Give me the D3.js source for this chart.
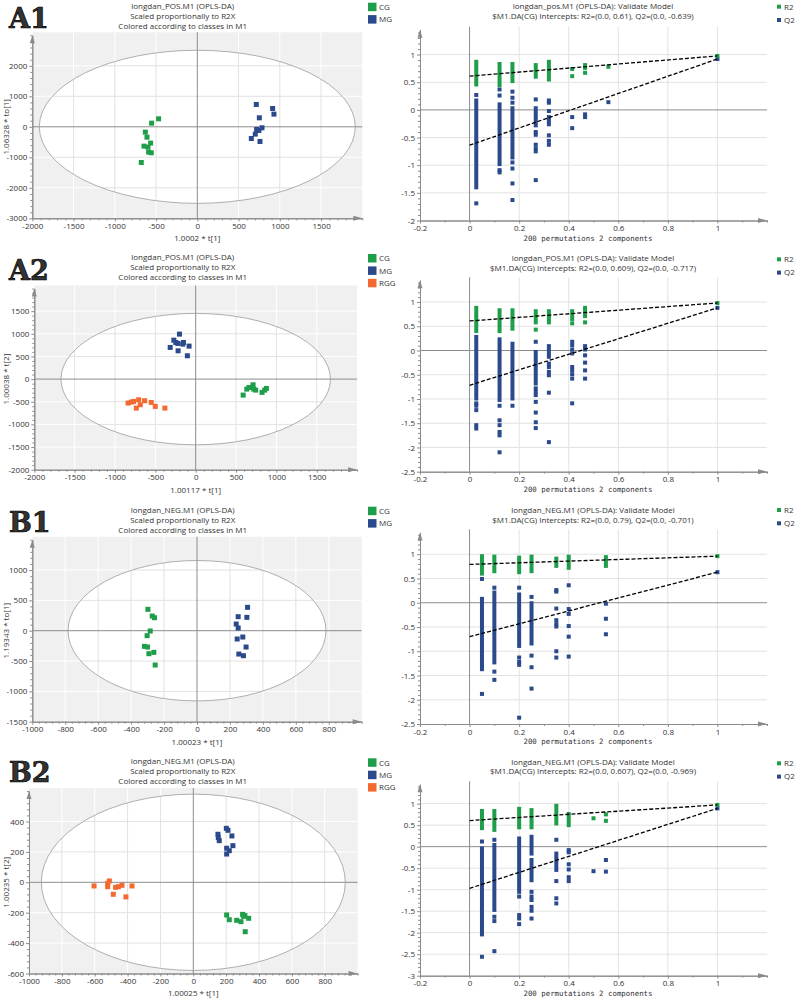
<!DOCTYPE html>
<html>
<head>
<meta charset="utf-8">
<script src="https://cdn.jsdelivr.net/npm/d3@7"></script>
<style>
body { margin: 0; background: #fff; }
text { font-family: "Open Sans", sans-serif; fill: #333; }
</style>
</head>
<body>
<div id="chart"></div>
<script>
var w = 796,
    h = 1000;

// score plot points [t1, t2/to1]
var a1Cg = [[-469, 262], [-554, 120], [-630, -175], [-610, -339], [-566, -535], [-646, -634], [-598, -667], [-590, -830], [-558, -852], [-679, -1169]];
var a1Mg = [[715, 732], [913, 601], [929, 415], [752, 295], [784, -33], [719, -87], [747, -120], [703, -240], [655, -383], [760, -481]];

var a2Cg = [[588, -353], [633, -221], [661, -184], [711, -125], [719, -221], [743, -243], [822, -294], [855, -243], [876, -206], [695, -184]];
var a2Mg = [[-201, 993], [-271, 860], [-247, 809], [-222, 787], [-152, 809], [-160, 772], [-316, 699], [-82, 728], [-218, 625], [-103, 515]];
var a2Rgg = [[-838, -529], [-797, -507], [-769, -493], [-707, -456], [-687, -566], [-736, -640], [-633, -478], [-551, -515], [-501, -603], [-382, -640]];

var b1Cg = [[-298, 352], [-272, 242], [-258, 214], [-284, -5], [-303, -82], [-319, -258], [-300, -269], [-262, -357], [-292, -379], [-254, -566]];
var b1Mg = [[307, 385], [250, 231], [303, 220], [238, 110], [250, 44], [244, -137], [278, -104], [298, -269], [254, -385], [282, -412]];

var b2Cg = [[203, -215], [219, -246], [264, -250], [300, -211], [314, -219], [337, -237], [290, -259], [316, -325], [306, -224]];
var b2Mg = [[201, 355], [211, 342], [150, 316], [235, 305], [152, 294], [158, 274], [241, 241], [203, 224], [219, 208], [203, 186]];
var b2Rgg = [[-604, -24], [-511, 9], [-521, -7], [-521, -29], [-473, -33], [-456, -29], [-434, -20], [-487, -79], [-410, -96], [-373, -24]];

// Hotelling T2 ellipse semi axes
var a1Ellipse = [1915, 2510];
var a2Ellipse = [1670, 1450];
var b1Ellipse = [783, 1157];
var b2Ellipse = [925, 580];

var a1XTicks = [-2000, -1500, -1000, -500, 0, 500, 1000, 1500];
var a1YTicks = [-3000, -2000, -1000, 0, 1000, 2000];
var a2XTicks = [-2000, -1500, -1000, -500, 0, 500, 1000, 1500];
var a2YTicks = [-2000, -1500, -1000, -500, 0, 500, 1000, 1500];
var b1XTicks = [-1000, -800, -600, -400, -200, 0, 200, 400, 600, 800];
var b1YTicks = [-1500, -1000, -500, 0, 500, 1000];
var b2XTicks = [-1000, -800, -600, -400, -200, 0, 200, 400, 600, 800];
var b2YTicks = [-600, -400, -200, 0, 200, 400];

// permutation tests: bars are [x, low, high] runs of overlapping squares, points are [x, y]
var a1R2Bars = [[0.027, 0.46, 0.87], [0.121, 0.45, 0.83], [0.173, 0.52, 0.83], [0.267, 0.60, 0.81], [0.32, 0.55, 0.87], [0.466, 0.76, 0.81]];
var a1R2Points = [[0.414, 0.74], [0.414, 0.61], [0.466, 0.67], [0.56, 0.78]];
var a1Q2Bars = [[0.027, -1.40, 0.17], [0.121, -0.98, 0.10], [0.173, -0.86, 0.03], [0.267, -0.28, 0.03]];
var a1Q2Points = [[0.027, 0.27], [0.027, -1.69], [0.121, 0.37], [0.121, 0.26], [0.121, -1.09], [0.121, -1.13],
    [0.173, 0.33], [0.173, 0.22], [0.173, 0.13], [0.173, -0.95], [0.173, -1.06], [0.173, -1.33], [0.173, -1.63],
    [0.267, 0.19], [0.267, -0.40], [0.267, -0.45], [0.267, -0.63], [0.267, -0.70], [0.267, -0.75], [0.267, -1.27],
    [0.32, 0.17], [0.32, 0.13], [0.32, -0.02], [0.32, -0.13], [0.32, -0.20], [0.32, -0.26], [0.32, -0.46], [0.32, -0.56], [0.32, -0.63],
    [0.414, -0.13], [0.414, -0.33], [0.466, -0.08], [0.466, -0.13], [0.56, 0.14]];
var a1Original = [0.976, 0.92];
var a1Intercepts = [0.61, -0.639];

var a2R2Bars = [[0.027, 0.40, 0.88], [0.121, 0.40, 0.83], [0.173, 0.45, 0.83], [0.267, 0.58, 0.81], [0.32, 0.58, 0.81], [0.414, 0.65, 0.81], [0.466, 0.71, 0.88]];
var a2R2Points = [[0.267, 0.43], [0.414, 0.56], [0.466, 0.58]];
var a2Q2Bars = [[0.027, -0.99, 0.28], [0.121, -1.02, 0.23], [0.173, -0.99, 0.14], [0.267, -0.68, -0.03], [0.32, -0.13, 0.09]];
var a2Q2Points = [[0.027, -1.09], [0.027, -1.14], [0.027, -1.23], [0.027, -1.54], [0.027, -1.61],
    [0.121, -1.14], [0.121, -1.44], [0.121, -1.54], [0.121, -1.68], [0.121, -1.75], [0.121, -2.10], [0.173, -1.14],
    [0.267, 0.18], [0.267, -0.78], [0.267, -0.85], [0.267, -0.92], [0.267, -1.06], [0.267, -1.28], [0.267, -1.48], [0.267, -1.60],
    [0.32, -0.27], [0.32, -0.34], [0.32, -0.44], [0.32, -0.51], [0.32, -0.87], [0.32, -1.89],
    [0.414, 0.18], [0.414, 0.11], [0.414, 0.02], [0.414, -0.06], [0.414, -0.34], [0.414, -0.41], [0.414, -0.49], [0.414, -0.58], [0.414, -1.09],
    [0.466, 0.09], [0.466, 0.02], [0.466, -0.10], [0.466, -0.25], [0.466, -0.41], [0.466, -0.58]];
var a2Original = [0.98, 0.88];
var a2Intercepts = [0.609, -0.717];

var b1R2Bars = [[0.05, 0.60, 0.96], [0.1, 0.65, 0.95], [0.2, 0.63, 0.93], [0.25, 0.65, 0.95], [0.35, 0.76, 0.91], [0.4, 0.72, 0.95], [0.55, 0.76, 0.94]];
var b1R2Points = [];
var b1Q2Bars = [[0.05, -1.37, 0.08], [0.1, -1.23, 0.21], [0.2, -0.89, 0.17], [0.25, -0.84, -0.01]];
var b1Q2Points = [[0.05, 0.49], [0.05, -1.88], [0.1, 0.31], [0.1, -1.42], [0.1, -1.59],
    [0.2, 0.31], [0.2, -1.13], [0.2, -1.22], [0.2, -1.28], [0.2, -2.37],
    [0.25, 0.12], [0.25, -1.09], [0.25, -1.33], [0.25, -1.77],
    [0.35, 0.26], [0.35, 0.23], [0.35, -0.12], [0.35, -0.36], [0.35, -0.44], [0.35, -0.49], [0.35, -1.00], [0.35, -1.13],
    [0.4, 0.36], [0.4, -0.13], [0.4, -0.23], [0.4, -0.48], [0.4, -0.70], [0.4, -1.11],
    [0.55, -0.02], [0.55, -0.33], [0.55, -0.65]];
var b1Original = [0.96, 0.63];
var b1Intercepts = [0.79, -0.701];

var b2R2Bars = [[0.05, 0.43, 0.83], [0.1, 0.39, 0.83], [0.2, 0.45, 0.88], [0.25, 0.45, 0.85], [0.35, 0.54, 0.95], [0.4, 0.50, 0.76]];
var b2R2Points = [[0.5, 0.66], [0.55, 0.75], [0.55, 0.60]];
var b2Q2Bars = [[0.05, -2.04, -0.04], [0.1, -1.47, 0.04], [0.2, -1.05, 0.19], [0.25, -0.16, 0.23], [0.25, -0.78, -0.31], [0.35, -0.54, -0.16]];
var b2Q2Points = [[0.05, 0.12], [0.05, -2.56], [0.1, 0.16], [0.1, -1.63], [0.1, -1.73], [0.1, -2.43],
    [0.2, -1.16], [0.2, -1.59], [0.2, -1.67], [0.2, -1.80],
    [0.25, -1.05], [0.25, -1.16], [0.25, -1.24], [0.25, -1.40], [0.25, -1.49], [0.25, -1.67],
    [0.35, 0.16], [0.35, -0.80], [0.35, -1.20], [0.35, -1.32],
    [0.4, -0.08], [0.4, -0.13], [0.4, -0.41], [0.4, -0.53], [0.4, -0.71], [0.4, -0.80],
    [0.5, -0.57], [0.55, -0.31], [0.55, -0.58]];
var b2Original = [0.97, 0.89];
var b2Intercepts = [0.607, -0.969];

var permXTicks = [-0.2, 0, 0.2, 0.4, 0.6, 0.8, 1];
var permYTicks3 = [-2, -1.5, -1, -0.5, 0, 0.5, 1];
var permYTicks35 = [-2.5, -2, -1.5, -1, -0.5, 0, 0.5, 1];
var permYTicks4 = [-3, -2.5, -2, -1.5, -1, -0.5, 0, 0.5, 1];

var classColor = {CG: "#1f9e4a", MG: "#2b4a8c", RGG: "#f26a30"};
var axisColor = "#8a8a8a";

var svg = d3.select("#chart").append("svg")
    .attr("width", w)
    .attr("height", h);

svg.append("rect").attr("width", w).attr("height", h).attr("fill", "#fff");

var scorePanels = [
    {id: "a1", label: "A1", model: "POS", xDomain: [-2000, 2000], yDomain: [-3000, 3000],
        left: 32.3, right: 362.3, top: 35.3, bottom: 218.3, xTicks: a1XTicks, yTicks: a1YTicks,
        ellipse: a1Ellipse, groups: [["CG", a1Cg], ["MG", a1Mg]],
        xLabel: "1.0002 * t[1]", yLabel: "1.06328 * to[1]", titleY: 6, legendY: 2.7, labelY: 28},
    {id: "a2", label: "A2", model: "POS", xDomain: [-2000, 2000], yDomain: [-2000, 2000],
        left: 34.3, right: 357.1, top: 288.5, bottom: 469.7, xTicks: a2XTicks, yTicks: a2YTicks,
        ellipse: a2Ellipse, groups: [["CG", a2Cg], ["MG", a2Mg], ["RGG", a2Rgg]],
        xLabel: "1.00117 * t[1]", yLabel: "1.00038 * t[2]", titleY: 257.3, legendY: 254, labelY: 280},
    {id: "b1", label: "B1", model: "NEG", xDomain: [-1000, 1000], yDomain: [-1500, 1500],
        left: 32.3, right: 361.7, top: 539.7, bottom: 721.7, xTicks: b1XTicks, yTicks: b1YTicks,
        ellipse: b1Ellipse, groups: [["CG", b1Cg], ["MG", b1Mg]],
        xLabel: "1.00023 * t[1]", yLabel: "1.19343 * to[1]", titleY: 510, legendY: 506.7, labelY: 532},
    {id: "b2", label: "B2", model: "NEG", xDomain: [-1000, 1000], yDomain: [-600, 600],
        left: 29, right: 357.6, top: 791.1, bottom: 973.5, xTicks: b2XTicks, yTicks: b2YTicks,
        ellipse: b2Ellipse, groups: [["CG", b2Cg], ["MG", b2Mg], ["RGG", b2Rgg]],
        xLabel: "1.00025 * t[1]", yLabel: "1.00235 * t[2]", titleY: 761, legendY: 758.3, labelY: 782}
];

var permPanels = [
    {model: "longdan_pos.M1", yDomain: [-2, 1.45], top: 29.7, bottom: 220.5, yTicks: permYTicks3,
        r2Bars: a1R2Bars, r2Points: a1R2Points, q2Bars: a1Q2Bars, q2Points: a1Q2Points,
        original: a1Original, intercepts: a1Intercepts, interceptText: "R2=(0.0, 0.61), Q2=(0.0, -0.639)", titleY: 6, legendY: 6.7},
    {model: "longdan_POS.M1", yDomain: [-2.5, 1.45], top: 280.2, bottom: 471.7, yTicks: permYTicks35,
        r2Bars: a2R2Bars, r2Points: a2R2Points, q2Bars: a2Q2Bars, q2Points: a2Q2Points,
        original: a2Original, intercepts: a2Intercepts, interceptText: "R2=(0.0, 0.609), Q2=(0.0, -0.717)", titleY: 258.3, legendY: 259.3},
    {model: "longdan_NEG.M1", yDomain: [-2.5, 1.45], top: 532.4, bottom: 724, yTicks: permYTicks35,
        r2Bars: b1R2Bars, r2Points: b1R2Points, q2Bars: b1Q2Bars, q2Points: b1Q2Points,
        original: b1Original, intercepts: b1Intercepts, interceptText: "R2=(0.0, 0.79), Q2=(0.0, -0.701)", titleY: 510, legendY: 510},
    {model: "longdan_NEG.M1", yDomain: [-3, 1.45], top: 784.3, bottom: 975.7, yTicks: permYTicks4,
        r2Bars: b2R2Bars, r2Points: b2R2Points, q2Bars: b2Q2Bars, q2Points: b2Q2Points,
        original: b2Original, intercepts: b2Intercepts, interceptText: "R2=(0.0, 0.607), Q2=(0.0, -0.969)", titleY: 761.7, legendY: 763.3}
];

scorePanels.forEach(drawScore);
permPanels.forEach(drawPerm);

function minorTicks(domain, step, major) {
    var out = [];
    var n0 = Math.ceil(domain[0] / step - 1e-6),
        n1 = Math.floor(domain[1] / step + 1e-6);
    for (var i = n0; i <= n1; i++) {
        var v = +(i * step).toFixed(6);
        if (major.indexOf(v) < 0) out.push(v);
    }
    return out;
}

function styleAxis(sel) {
    sel.attr("font-family", null).attr("font-size", null);
    sel.select(".domain").attr("stroke", axisColor);
    sel.selectAll(".tick line").attr("stroke", axisColor);
    sel.selectAll(".tick text").attr("fill", "#333").style("font-size", "8px");
}

function drawAxes(g, x, y, p, xMinor, yMinor) {
    var fmt = function (d) { return String(d); };

    g.append("g")
        .attr("transform", "translate(0," + p.bottom + ")")
        .call(d3.axisBottom(x).tickValues(xMinor).tickSize(2).tickSizeOuter(0).tickFormat(""))
        .call(styleAxis);
    g.append("g")
        .attr("transform", "translate(0," + p.bottom + ")")
        .call(d3.axisBottom(x).tickValues(p.xTicks).tickSize(3).tickSizeOuter(0).tickPadding(2).tickFormat(fmt))
        .call(styleAxis);
    g.append("g")
        .attr("transform", "translate(" + p.left + ",0)")
        .call(d3.axisLeft(y).tickValues(yMinor).tickSize(2).tickSizeOuter(0).tickFormat(""))
        .call(styleAxis);
    g.append("g")
        .attr("transform", "translate(" + p.left + ",0)")
        .call(d3.axisLeft(y).tickValues(p.yTicks).tickSize(3).tickSizeOuter(0).tickPadding(2).tickFormat(fmt))
        .call(styleAxis);

    // arrow heads
    g.append("path")
        .attr("d", "M" + (p.left - 2.5) + "," + (p.top + 8) + "L" + p.left + "," + p.top + "L" + (p.left + 2.5) + "," + (p.top + 8) + "Z")
        .attr("fill", axisColor);
    g.append("path")
        .attr("d", "M" + (p.right - 9) + "," + (p.bottom - 2.5) + "L" + p.right + "," + p.bottom + "L" + (p.right - 9) + "," + (p.bottom + 2.5) + "Z")
        .attr("fill", axisColor);
}

function gridLines(g, x, y, p, color, skipX, skipY) {
    g.selectAll(null)
        .data(p.xTicks.filter(function (d) { return skipX.indexOf(d) < 0; }))
        .enter().append("line")
        .attr("x1", function (d) { return x(d); })
        .attr("x2", function (d) { return x(d); })
        .attr("y1", p.top - 3)
        .attr("y2", p.bottom)
        .attr("stroke", color)
        .attr("stroke-width", 1);
    g.selectAll(null)
        .data(p.yTicks.filter(function (d) { return skipY.indexOf(d) < 0; }))
        .enter().append("line")
        .attr("x1", p.left)
        .attr("x2", p.right)
        .attr("y1", function (d) { return y(d); })
        .attr("y2", function (d) { return y(d); })
        .attr("stroke", color)
        .attr("stroke-width", 1);
}

function drawScore(p) {
    var x = d3.scaleLinear().domain(p.xDomain).range([p.left, p.right]);
    var y = d3.scaleLinear().domain(p.yDomain).range([p.bottom, p.top]);
    var g = svg.append("g");

    var cx = x(0), cy = y(0),
        rx = x(p.ellipse[0]) - x(0),
        ry = y(0) - y(p.ellipse[1]);

    g.append("rect")
        .attr("x", p.left)
        .attr("y", p.top - 3)
        .attr("width", p.right - p.left)
        .attr("height", p.bottom - p.top + 3)
        .attr("fill", "#f0f0f0");

    var skipX = [0, p.xDomain[0]], skipY = [0, p.yDomain[0]];
    gridLines(g, x, y, p, "#ffffff", skipX, skipY);

    g.append("ellipse")
        .attr("cx", cx).attr("cy", cy).attr("rx", rx).attr("ry", ry)
        .attr("fill", "#fff");

    g.append("clipPath").attr("id", "clip-" + p.id)
        .append("ellipse")
        .attr("cx", cx).attr("cy", cy).attr("rx", rx).attr("ry", ry);
    var inner = g.append("g").attr("clip-path", "url(#clip-" + p.id + ")");
    gridLines(inner, x, y, p, "#e2e2e2", skipX, skipY);

    // zero lines
    g.append("line")
        .attr("x1", p.left).attr("x2", p.right)
        .attr("y1", cy).attr("y2", cy)
        .attr("stroke", "#8c8c8c");
    g.append("line")
        .attr("x1", cx).attr("x2", cx)
        .attr("y1", p.top - 3).attr("y2", p.bottom)
        .attr("stroke", "#8c8c8c");

    g.append("ellipse")
        .attr("cx", cx).attr("cy", cy).attr("rx", rx).attr("ry", ry)
        .attr("fill", "none")
        .attr("stroke", "#9c9c9c")
        .attr("stroke-width", 0.8);

    p.groups.forEach(function (grp) {
        g.selectAll(null)
            .data(grp[1])
            .enter().append("rect")
            .attr("x", function (d) { return x(d[0]) - 2.5; })
            .attr("y", function (d) { return y(d[1]) - 2.5; })
            .attr("width", 5)
            .attr("height", 5)
            .attr("fill", classColor[grp[0]]);
    });

    var xStep = (p.xTicks[1] - p.xTicks[0]) / 5,
        yStep = (p.yTicks[1] - p.yTicks[0]) / 5;
    drawAxes(g, x, y, p, minorTicks(p.xDomain, xStep, p.xTicks), minorTicks(p.yDomain, yStep, p.yTicks));

    // titles
    var titles = ["longdan_" + p.model + ".M1 (OPLS-DA)", "Scaled proportionally to R2X", "Colored according to classes in M1"];
    g.selectAll(null)
        .data(titles)
        .enter().append("text")
        .attr("x", 182.7)
        .attr("y", function (d, i) { return p.titleY + i * 10; })
        .attr("dy", "0.35em")
        .attr("text-anchor", "middle")
        .style("font-size", "8px")
        .text(function (d) { return d; });

    // legend
    var leg = g.selectAll(null)
        .data(p.groups)
        .enter().append("g")
        .attr("transform", function (d, i) { return "translate(368," + (p.legendY + i * 12.4) + ")"; });
    leg.append("rect")
        .attr("width", 8.5)
        .attr("height", 8.5)
        .attr("fill", function (d) { return classColor[d[0]]; });
    leg.append("text")
        .attr("x", 11)
        .attr("y", 4.5)
        .attr("dy", "0.35em")
        .style("font-size", "8px")
        .text(function (d) { return d[0]; });

    g.append("text")
        .attr("x", (p.left + p.right) / 2)
        .attr("y", p.bottom + 20)
        .attr("dy", "0.35em")
        .attr("text-anchor", "middle")
        .style("font-size", "8px")
        .text(p.xLabel);

    g.append("text")
        .attr("transform", "translate(6," + ((p.top + p.bottom) / 2) + ") rotate(-90)")
        .attr("dy", "0.35em")
        .attr("text-anchor", "middle")
        .style("font-size", "8px")
        .text(p.yLabel);

    g.append("text")
        .attr("x", 9)
        .attr("y", p.labelY)
        .style("font-family", "'DejaVu Serif', serif")
        .style("font-weight", "bold")
        .style("font-size", "27px")
        .attr("fill", "#000")
        .attr("stroke", "#000")
        .attr("stroke-width", 0.7)
        .text(p.label);
}

function drawPerm(p) {
    p.left = 420;
    p.right = 767;
    p.xTicks = permXTicks;
    var x = d3.scaleLinear().domain([-0.2, 1.2]).range([p.left, p.right]);
    var y = d3.scaleLinear().domain(p.yDomain).range([p.bottom, p.top]);
    var g = svg.append("g");

    gridLines(g, x, y, p, "#e2e2e2", [0, -0.2], [0, p.yDomain[0]]);

    g.append("line")
        .attr("x1", p.left).attr("x2", p.right)
        .attr("y1", y(0)).attr("y2", y(0))
        .attr("stroke", "#8c8c8c");
    g.append("line")
        .attr("x1", x(0)).attr("x2", x(0))
        .attr("y1", p.top - 3).attr("y2", p.bottom)
        .attr("stroke", "#8c8c8c");

    var sq = 4;
    function bars(data, color) {
        g.selectAll(null)
            .data(data)
            .enter().append("rect")
            .attr("x", function (d) { return x(d[0]) - sq / 2; })
            .attr("y", function (d) { return y(d[2]) - sq / 2; })
            .attr("width", sq)
            .attr("height", function (d) { return y(d[1]) - y(d[2]) + sq; })
            .attr("fill", color);
    }
    function points(data, color) {
        g.selectAll(null)
            .data(data)
            .enter().append("rect")
            .attr("x", function (d) { return x(d[0]) - sq / 2; })
            .attr("y", function (d) { return y(d[1]) - sq / 2; })
            .attr("width", sq)
            .attr("height", sq)
            .attr("fill", color);
    }

    bars(p.q2Bars, classColor.MG);
    points(p.q2Points, classColor.MG);
    points([[1, p.original[1]]], classColor.MG);
    bars(p.r2Bars, classColor.CG);
    points(p.r2Points, classColor.CG);
    points([[1, p.original[0]]], classColor.CG);

    var lines = [[p.intercepts[0], p.original[0]], [p.intercepts[1], p.original[1]]];
    g.selectAll(null)
        .data(lines)
        .enter().append("line")
        .attr("x1", x(0))
        .attr("x2", x(1))
        .attr("y1", function (d) { return y(d[0]); })
        .attr("y2", function (d) { return y(d[1]); })
        .attr("stroke", "#000")
        .attr("stroke-width", 1.3)
        .attr("stroke-dasharray", "4,2");

    drawAxes(g, x, y, p, minorTicks([-0.2, 1.2], 0.1, permXTicks), minorTicks(p.yDomain, 0.1, p.yTicks));

    var titles = [p.model + " (OPLS-DA): Validate Model", "$M1.DA(CG) Intercepts: " + p.interceptText];
    g.selectAll(null)
        .data(titles)
        .enter().append("text")
        .attr("x", 593)
        .attr("y", function (d, i) { return p.titleY + i * 9.7; })
        .attr("dy", "0.35em")
        .attr("text-anchor", "middle")
        .style("font-size", "8px")
        .text(function (d) { return d; });

    var leg = g.selectAll(null)
        .data([["R2", classColor.CG], ["Q2", classColor.MG]])
        .enter().append("g")
        .attr("transform", function (d, i) { return "translate(777," + (p.legendY + i * 13.3) + ")"; });
    leg.append("rect")
        .attr("x", 0)
        .attr("y", -2)
        .attr("width", 4)
        .attr("height", 4)
        .attr("fill", function (d) { return d[1]; });
    leg.append("text")
        .attr("x", 7)
        .attr("dy", "0.35em")
        .style("font-size", "8px")
        .text(function (d) { return d[0]; });

    g.append("text")
        .attr("x", 588)
        .attr("y", p.bottom + 17.5)
        .attr("dy", "0.35em")
        .attr("text-anchor", "middle")
        .style("font-family", "'DejaVu Sans Mono', monospace")
        .style("font-size", "7.4px")
        .text("200 permutations 2 components");
}
</script>
</body>
</html>
